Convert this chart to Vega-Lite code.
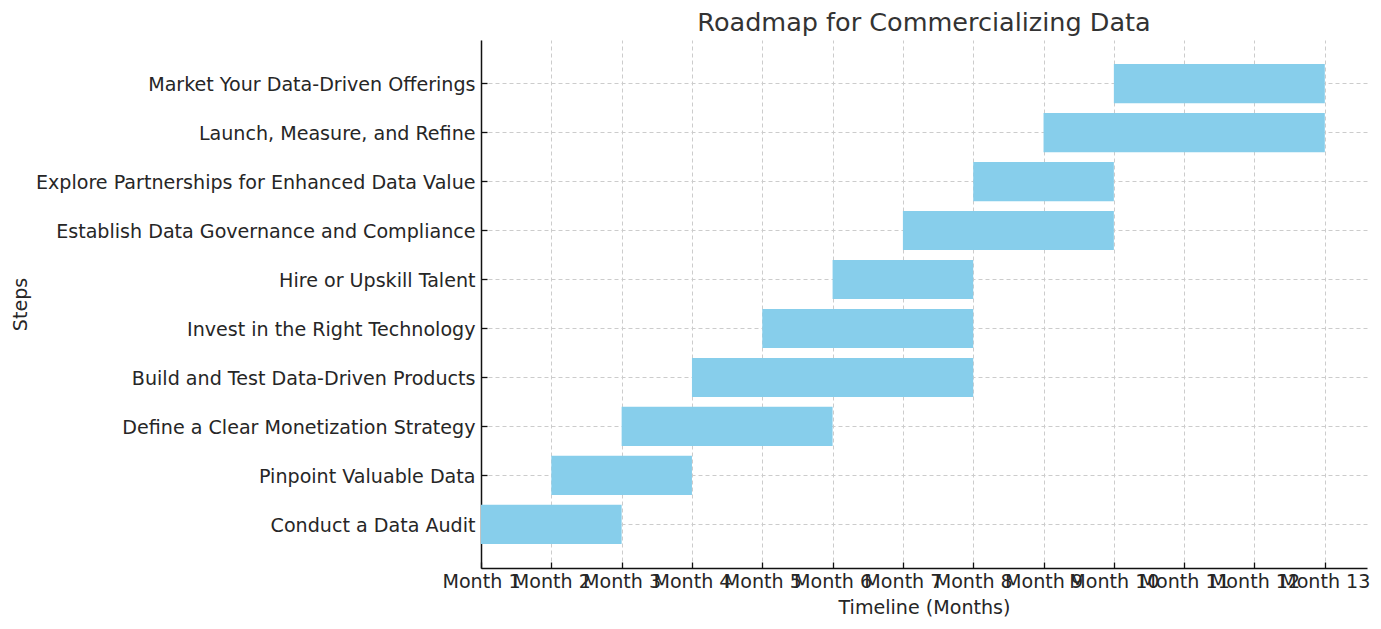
{
  "$schema": "https://vega.github.io/schema/vega-lite/v6.json",
  "autosize": {"type": "none"},
  "padding": {"left": 481, "top": 40, "right": 14, "bottom": 61},
  "width": 886,
  "height": 528,
  "background": "white",
  "title": {
    "text": "Roadmap for Commercializing Data",
    "font": "DejaVu Sans",
    "fontSize": 25.5,
    "fontWeight": "normal",
    "color": "#333333",
    "anchor": "middle",
    "frame": "group",
    "baseline": "alphabetic",
    "offset": -16
  },
  "data": {
    "values": [
      {"step": "Conduct a Data Audit", "start": 0, "end": 2},
      {"step": "Pinpoint Valuable Data", "start": 1, "end": 3},
      {"step": "Define a Clear Monetization Strategy", "start": 2, "end": 5},
      {"step": "Build and Test Data-Driven Products", "start": 3, "end": 7},
      {"step": "Invest in the Right Technology", "start": 4, "end": 7},
      {"step": "Hire or Upskill Talent", "start": 5, "end": 7},
      {"step": "Establish Data Governance and Compliance", "start": 6, "end": 9},
      {"step": "Explore Partnerships for Enhanced Data Value", "start": 7, "end": 9},
      {"step": "Launch, Measure, and Refine", "start": 8, "end": 12},
      {"step": "Market Your Data-Driven Offerings", "start": 9, "end": 12}
    ]
  },
  "config": {
    "view": {"stroke": null},
    "font": "DejaVu Sans",
    "axis": {
      "labelFont": "DejaVu Sans",
      "titleFont": "DejaVu Sans",
      "labelFontSize": 19.1,
      "titleFontSize": 19.1,
      "titleFontWeight": "normal",
      "labelColor": "#262626",
      "titleColor": "#262626",
      "domainColor": "#111111",
      "domainWidth": 1.5,
      "tickColor": "#111111",
      "tickWidth": 1.3,
      "tickSize": -6,
      "gridColor": "#cccccc",
      "gridWidth": 1,
      "gridDash": [4, 3],
      "zindex": 1
    }
  },
  "mark": {"type": "bar", "color": "#87CEEB", "opacity": 1},
  "encoding": {
    "y": {
      "field": "step",
      "type": "nominal",
      "sort": [
        "Market Your Data-Driven Offerings",
        "Launch, Measure, and Refine",
        "Explore Partnerships for Enhanced Data Value",
        "Establish Data Governance and Compliance",
        "Hire or Upskill Talent",
        "Invest in the Right Technology",
        "Build and Test Data-Driven Products",
        "Define a Clear Monetization Strategy",
        "Pinpoint Valuable Data",
        "Conduct a Data Audit"
      ],
      "scale": {"paddingInner": 0.2, "paddingOuter": 0.49},
      "axis": {
        "title": "Steps",
        "bandPosition": 0.5,
        "grid": true,
        "labelPadding": 12,
        "labelOffset": 1.5,
        "labelLimit": 0,
        "titleAngle": -90,
        "titleX": -461,
        "titleY": 264,
        "titleAlign": "center",
        "titleBaseline": "middle"
      }
    },
    "x": {
      "field": "start",
      "type": "quantitative",
      "scale": {"domain": [0, 12.6], "nice": false, "zero": false},
      "axis": {
        "title": "Timeline (Months)",
        "values": [0, 1, 2, 3, 4, 5, 6, 7, 8, 9, 10, 11, 12],
        "labelExpr": "'Month ' + (datum.value + 1)",
        "labelOverlap": false,
        "labelFlush": false,
        "labelPadding": 10,
        "grid": true,
        "titleX": 443,
        "titleY": 39,
        "titleAlign": "center",
        "titleBaseline": "middle"
      }
    },
    "x2": {"field": "end"}
  }
}
